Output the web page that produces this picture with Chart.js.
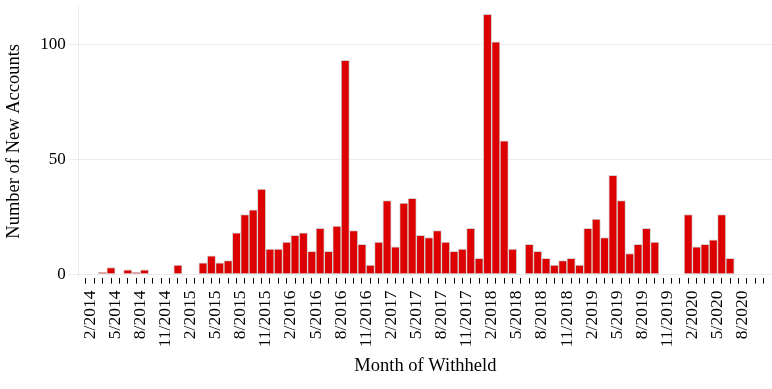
<!DOCTYPE html>
<html>
<head>
<meta charset="utf-8">
<title>New Accounts by Month of Withheld</title>
<script src="https://cdn.jsdelivr.net/npm/chart.js@4/dist/chart.umd.min.js"></script>
<style>
    body { margin: 0; background: #fff; }
    #wrap { width: 772px; height: 389px; position: relative; }
</style>
</head>
<body>
<div id="wrap"><canvas id="accountsChart"></canvas></div>
<script>
// Months, one bar each (2/2014 .. 10/2020)
const months = [
    '2/2014', '3/2014', '4/2014', '5/2014', '6/2014', '7/2014', '8/2014', '9/2014', '10/2014', '11/2014', '12/2014',
    '1/2015', '2/2015', '3/2015', '4/2015', '5/2015', '6/2015', '7/2015', '8/2015', '9/2015', '10/2015', '11/2015', '12/2015',
    '1/2016', '2/2016', '3/2016', '4/2016', '5/2016', '6/2016', '7/2016', '8/2016', '9/2016', '10/2016', '11/2016', '12/2016',
    '1/2017', '2/2017', '3/2017', '4/2017', '5/2017', '6/2017', '7/2017', '8/2017', '9/2017', '10/2017', '11/2017', '12/2017',
    '1/2018', '2/2018', '3/2018', '4/2018', '5/2018', '6/2018', '7/2018', '8/2018', '9/2018', '10/2018', '11/2018', '12/2018',
    '1/2019', '2/2019', '3/2019', '4/2019', '5/2019', '6/2019', '7/2019', '8/2019', '9/2019', '10/2019', '11/2019', '12/2019',
    '1/2020', '2/2020', '3/2020', '4/2020', '5/2020', '6/2020', '7/2020', '8/2020', '9/2020', '10/2020'
];

// Number of new accounts per month
const newAccounts = [
    0, 1, 3, 0, 2, 1, 2, 0, 0, 0, 4,
    0, 0, 5, 8, 5, 6, 18, 26, 28, 37, 11, 11,
    14, 17, 18, 10, 20, 10, 21, 93, 19, 13, 4, 14,
    32, 12, 31, 33, 17, 16, 19, 14, 10, 11, 20, 7,
    113, 101, 58, 11, 0, 13, 10, 7, 4, 6, 7, 4,
    20, 24, 16, 43, 32, 9, 13, 20, 14, 0, 0, 0,
    26, 12, 13, 15, 26, 7, 0, 0, 0, 0
];

// Labelled ticks (every third month)
const tickLabels = [
    '2/2014', '5/2014', '8/2014', '11/2014', '2/2015', '5/2015', '8/2015', '11/2015',
    '2/2016', '5/2016', '8/2016', '11/2016', '2/2017', '5/2017', '8/2017', '11/2017',
    '2/2018', '5/2018', '8/2018', '11/2018', '2/2019', '5/2019', '8/2019', '11/2019',
    '2/2020', '5/2020', '8/2020'
];

const yTicks = [0, 50, 100];

document.addEventListener('DOMContentLoaded', function() {
    const canvas = document.getElementById('accountsChart');
    const serif = "'Liberation Serif', 'Times New Roman', serif";

    // bar i covers the month from tick i to tick i+1
    const points = newAccounts.map((v, i) => ({ x: i + 0.5, y: v }));

    new Chart(canvas, {
        type: 'bar',
        data: {
            datasets: [{
                label: 'Number of New Accounts',
                data: points,
                backgroundColor: 'rgb(221, 0, 0)',
                borderColor: '#d4d4d4',
                borderWidth: 1,
                borderSkipped: false,
                barPercentage: 1,
                categoryPercentage: 1
            }]
        },
        options: {
            responsive: true,
            maintainAspectRatio: false,
            animation: false,
            layout: {
                padding: { top: 5, right: 0, bottom: 12, left: 3 }
            },
            plugins: {
                legend: { display: false },
                tooltip: { enabled: false }
            },
            scales: {
                x: {
                    type: 'linear',
                    min: -0.85,
                    max: months.length,
                    afterBuildTicks: function(scale) {
                        scale.ticks = months.map((m, i) => ({ value: i }));
                    },
                    afterFit: function(scale) {
                        // no extra room on the right for the (empty) last label
                        scale.paddingRight = 0;
                    },
                    ticks: {
                        autoSkip: false,
                        minRotation: 90,
                        maxRotation: 90,
                        padding: 7,
                        color: '#000',
                        font: { family: serif, size: 17.5 },
                        callback: function(value) {
                            const label = months[value];
                            return tickLabels.includes(label) ? label : '';
                        }
                    },
                    grid: {
                        drawOnChartArea: false,
                        drawTicks: true,
                        tickLength: 6,
                        color: '#000'
                    },
                    border: { display: false },
                    title: {
                        display: true,
                        text: 'Month of Withheld',
                        color: '#000',
                        font: { family: serif, size: 18.5 },
                        padding: { top: 0.5, bottom: 0 }
                    }
                },
                y: {
                    min: -1.4,
                    max: 117,
                    afterBuildTicks: function(scale) {
                        scale.ticks = yTicks.map(v => ({ value: v }));
                    },
                    afterFit: function(scale) {
                        scale.paddingTop = 0;
                        scale.paddingBottom = 0;
                    },
                    ticks: {
                        color: '#000',
                        padding: 3,
                        font: { family: serif, size: 17 }
                    },
                    grid: {
                        color: '#ececec',
                        tickLength: 10
                    },
                    border: { display: true, color: '#ececec' },
                    title: {
                        display: true,
                        text: 'Number of New Accounts',
                        color: '#000',
                        font: { family: serif, size: 18.5 },
                        padding: { top: 0, bottom: 12 }
                    }
                }
            }
        }
    });
});
</script>
</body>
</html>
